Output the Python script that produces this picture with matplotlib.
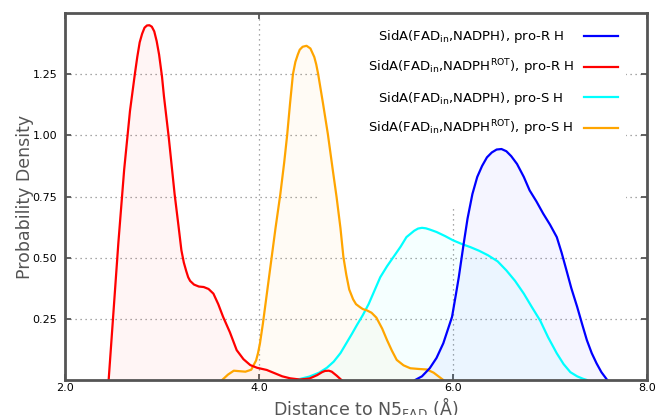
import numpy as np
import matplotlib
matplotlib.use("Agg")
import matplotlib.pyplot as plt
from matplotlib.patches import Rectangle

# Kernel density curves
red_x = [2.45, 2.50, 2.55, 2.61, 2.67, 2.70, 2.72, 2.745, 2.77, 2.795, 2.82, 2.845,
         2.87, 2.895, 2.92, 2.945, 2.97, 3.00, 3.02, 3.07, 3.13, 3.17, 3.20, 3.225,
         3.25, 3.27, 3.29, 3.33, 3.38, 3.43, 3.48, 3.53, 3.58, 3.63, 3.70, 3.77,
         3.84, 3.91, 3.98, 4.08, 4.16, 4.24, 4.32, 4.42, 4.52, 4.60, 4.65, 4.68,
         4.72, 4.75, 4.80, 4.85]
red_y = [0.00, 0.28, 0.56, 0.86, 1.10, 1.19, 1.25, 1.32, 1.38, 1.415, 1.44, 1.449,
         1.45, 1.444, 1.425, 1.385, 1.33, 1.24, 1.16, 0.99, 0.76, 0.63, 0.53, 0.48,
         0.445, 0.42, 0.405, 0.39, 0.382, 0.38, 0.372, 0.353, 0.31, 0.258, 0.195, 0.122,
         0.085, 0.061, 0.05, 0.041, 0.028, 0.015, 0.007, 0.002, 0.006, 0.02, 0.032, 0.037,
         0.038, 0.034, 0.018, 0.0]

orange_x = [3.62, 3.68, 3.74, 3.80, 3.86, 3.92, 3.97, 3.99, 4.01, 4.04, 4.07, 4.10,
            4.13, 4.17, 4.22, 4.26, 4.29, 4.32, 4.35, 4.375, 4.40, 4.42, 4.45, 4.49,
            4.53, 4.57, 4.59, 4.61, 4.66, 4.71, 4.76, 4.80, 4.84, 4.87, 4.90, 4.93,
            4.97, 5.00, 5.04, 5.07, 5.11, 5.16, 5.21, 5.27, 5.32, 5.37, 5.42, 5.49,
            5.56, 5.65, 5.73, 5.80, 5.86, 5.90]
orange_y = [0.00, 0.022, 0.038, 0.036, 0.034, 0.042, 0.08, 0.11, 0.15, 0.23, 0.32, 0.41,
            0.50, 0.62, 0.76, 0.89, 1.00, 1.13, 1.25, 1.30, 1.33, 1.35, 1.362, 1.366,
            1.355, 1.32, 1.29, 1.25, 1.13, 1.005, 0.86, 0.747, 0.62, 0.503, 0.43, 0.37,
            0.33, 0.31, 0.298, 0.29, 0.285, 0.275, 0.255, 0.21, 0.163, 0.12, 0.082, 0.06,
            0.048, 0.045, 0.043, 0.03, 0.012, 0.0]

cyan_x = [4.32, 4.42, 4.52, 4.62, 4.70, 4.77, 4.84, 4.90, 4.96, 5.01, 5.07, 5.13,
          5.19, 5.25, 5.32, 5.39, 5.46, 5.52, 5.60, 5.64, 5.68, 5.72, 5.76, 5.83,
          5.92, 6.00, 6.09, 6.18, 6.27, 6.36, 6.46, 6.55, 6.64, 6.73, 6.81, 6.90,
          6.98, 7.07, 7.14, 7.21, 7.28, 7.34, 7.38]
cyan_y = [0.0, 0.004, 0.014, 0.03, 0.05, 0.075, 0.11, 0.15, 0.19, 0.225, 0.265, 0.31,
          0.365, 0.42, 0.465, 0.505, 0.545, 0.584, 0.61, 0.619, 0.622, 0.62, 0.615, 0.605,
          0.588, 0.571, 0.556, 0.543, 0.528, 0.51, 0.485, 0.448, 0.405, 0.353, 0.30, 0.242,
          0.175, 0.109, 0.065, 0.032, 0.015, 0.005, 0.0]

blue_x = [5.61, 5.68, 5.76, 5.83, 5.90, 5.95, 5.99, 6.03, 6.06, 6.11, 6.15, 6.20,
          6.25, 6.30, 6.35, 6.40, 6.45, 6.50, 6.55, 6.60, 6.66, 6.73, 6.79, 6.86,
          6.93, 7.00, 7.07, 7.12, 7.17, 7.22, 7.28, 7.33, 7.38, 7.43, 7.48, 7.53, 7.59]
blue_y = [0.0, 0.015, 0.048, 0.09, 0.15, 0.21, 0.258, 0.35, 0.421, 0.557, 0.66, 0.76,
          0.83, 0.875, 0.91, 0.93, 0.942, 0.944, 0.935, 0.915, 0.883, 0.83, 0.775, 0.73,
          0.68, 0.635, 0.584, 0.52, 0.448, 0.375, 0.299, 0.23, 0.163, 0.11, 0.068, 0.032, 0.0]

labels = [
    r"SidA(FAD$_\mathrm{in}$,NADPH), pro-R H",
    r"SidA(FAD$_\mathrm{in}$,NADPH$^\mathrm{ROT}$), pro-R H",
    r"SidA(FAD$_\mathrm{in}$,NADPH), pro-S H",
    r"SidA(FAD$_\mathrm{in}$,NADPH$^\mathrm{ROT}$), pro-S H",
]
xticks = [2.0, 4.0, 6.0, 8.0]
yticks = [0.25, 0.50, 0.75, 1.00, 1.25]

fig = plt.figure(figsize=(6.56, 4.15), dpi=100)
ax = fig.add_axes([65 / 656, 35 / 415, 582 / 656, 367 / 415])

series = {
    "cyan": (cyan_x, cyan_y),
    "orange": (orange_x, orange_y),
    "red": (red_x, red_y),
    "blue": (blue_x, blue_y),
}
handles = {}
for color, (xs, ys) in series.items():
    ax.fill_between(xs, ys, 0, color=color, alpha=0.04, linewidth=0)
    handles[color], = ax.plot(xs, ys, color=color, linewidth=1.6)

# white backdrop behind the legend, under the curves but over the grid
ax.add_patch(Rectangle((0.438, 0.469), 0.526, 0.531, transform=ax.transAxes,
                       facecolor="white", edgecolor="none", zorder=0.8))

ax.set_xlim(2.0, 8.0)
ax.set_ylim(0.0, 1.5)
ax.set_xticks(xticks)
ax.set_xticklabels([f"{t:.1f}" for t in xticks])
ax.set_yticks(yticks)
ax.set_yticklabels([f"{t:.2f}" for t in yticks])
ax.set_axisbelow(True)
ax.grid(True, linestyle=(0, (1, 3)), color="#8a8a8a", linewidth=0.9)

for sp in ax.spines.values():
    sp.set_color("#555555")
    sp.set_linewidth(2)
ax.tick_params(direction="in", length=4, width=1.3, color="#555555",
               top=True, right=True, labelsize=8, labelcolor="black")
ax.tick_params(axis="x", pad=2.5)
ax.tick_params(axis="y", pad=5.5)

ax.set_xlabel(r"Distance to N5$_\mathrm{FAD}$ (Å)", fontsize=12.5, color="#555555")
ax.set_ylabel("Probability Density", fontsize=12.5, color="#555555")
ax.xaxis.set_label_coords(0.517, -0.040)
ax.yaxis.set_label_coords(-0.053, 0.5)

# shorter labels get trailing spaces so the text column looks centred
order = ["blue", "red", "cyan", "orange"]
leg_labels = [l if "ROT" in l else l + "   " for l in labels]
leg = ax.legend([handles[c] for c in order], leg_labels, loc="upper right",
                bbox_to_anchor=(0.950, 0.958), frameon=False, fontsize=9.5,
                markerfirst=False, handlelength=2.6, handletextpad=0.75,
                labelspacing=0.93, borderpad=0, borderaxespad=0)

fig.savefig("out.png", dpi=100)
